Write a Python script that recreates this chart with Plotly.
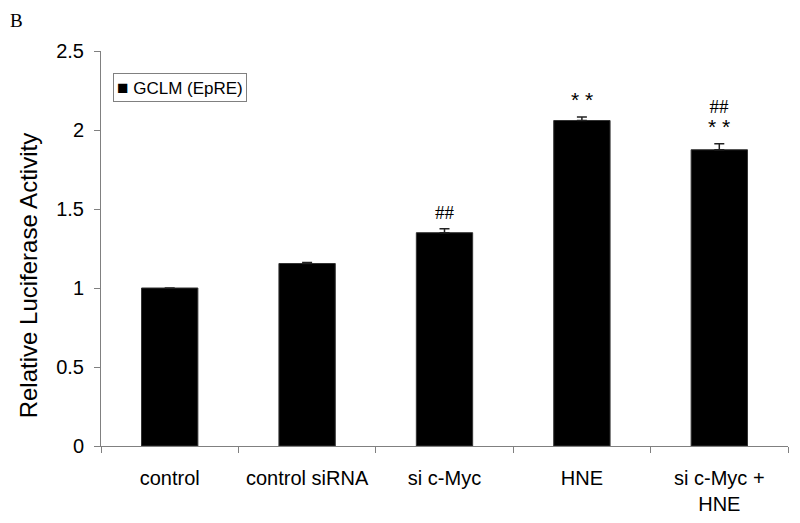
import plotly.graph_objects as go

categories = ["control", "control siRNA", "si c-Myc", "HNE", "si c-Myc +<br>HNE"]
values = [1.0, 1.155, 1.35, 2.06, 1.875]
errors = [0.0, 0.006, 0.025, 0.022, 0.038]
series_name = "GCLM (EpRE)"
y_ticks = [0, 0.5, 1, 1.5, 2, 2.5]
y_tick_text = ["0", "0.5", "1", "1.5", "2", "2.5"]
marks_star = ["", "", "", "* *", "* *"]
marks_hash = ["", "", "##", "", "##"]
mark_y = [None, None, 1.475, 2.19, 2.08]

STAR = "<span style='font-family:Liberation Sans, Arial;font-size:21px'>{}</span>"
HASH = "<span style='font-family:Liberation Serif, Times New Roman;font-size:19px'>{}</span>"

fig = go.Figure()
fig.add_trace(go.Bar(
    x=categories, y=values, name=series_name,
    marker=dict(color="black", line=dict(color="#333333", width=1)),
    width=0.41,
    error_y=dict(type="data", array=errors, arrayminus=[0]*len(errors), symmetric=False,
                 color="#222222", thickness=1.5, width=5),
    showlegend=False,
))

annotations = []
for c, st, hs, y in zip(categories, marks_star, marks_hash, mark_y):
    parts = []
    if hs:
        parts.append(HASH.format(hs))
    if st:
        parts.append(STAR.format(st))
    if parts:
        annotations.append(dict(x=c, y=y, xref="x", yref="y", text="<br>".join(parts), showarrow=False,
                                font=dict(family="Liberation Sans, Arial", size=16.5, color="black"),
                                yanchor="middle"))
# y-axis title
annotations.append(dict(x=-0.106, y=0.43, xref="paper", yref="paper", text="Relative Luciferase Activity",
                        textangle=-90, showarrow=False, xanchor="center", yanchor="middle",
                        font=dict(family="Liberation Sans, Arial", size=24, color="black")))
# panel letter
annotations.append(dict(x=-0.135, y=1.076, xref="paper", yref="paper", text="B", showarrow=False,
                        xanchor="left", yanchor="middle",
                        font=dict(family="Liberation Serif, Times New Roman", size=19, color="black")))
# legend box
annotations.append(dict(x=0.018, y=0.944, xref="paper", yref="paper",
                        text="<span style='font-size:19px'>■</span> " + series_name,
                        showarrow=False, xanchor="left", yanchor="top", align="left",
                        bordercolor="#808080", borderwidth=1, borderpad=3, bgcolor="white",
                        font=dict(family="Liberation Sans, Arial", size=17, color="black")))

fig.update_layout(
    width=800, height=523,
    margin=dict(l=93, r=20, t=43, b=85),
    plot_bgcolor="white", paper_bgcolor="white",
    font=dict(family="Liberation Sans, Arial", color="black"),
    annotations=annotations,
    showlegend=False,
)
fig.update_xaxes(
    type="category", range=[-0.5, 4.5],
    showline=True, linecolor="#808080", linewidth=1,
    ticks="outside", tickson="boundaries", ticklen=6, tickcolor="#808080",
    ticklabelstandoff=14,
    tickfont=dict(family="Liberation Sans, Arial", size=20, color="black"),
    showgrid=False,
)
fig.update_yaxes(
    range=[0, 2.5], tickvals=y_ticks, ticktext=y_tick_text,
    showline=True, linecolor="#808080", linewidth=1,
    ticks="outside", ticklen=6, tickcolor="#808080",
    ticklabelstandoff=6,
    tickfont=dict(family="Liberation Sans, Arial", size=20, color="black"),
    showgrid=False, zeroline=False,
)

fig.write_html("out.html")
